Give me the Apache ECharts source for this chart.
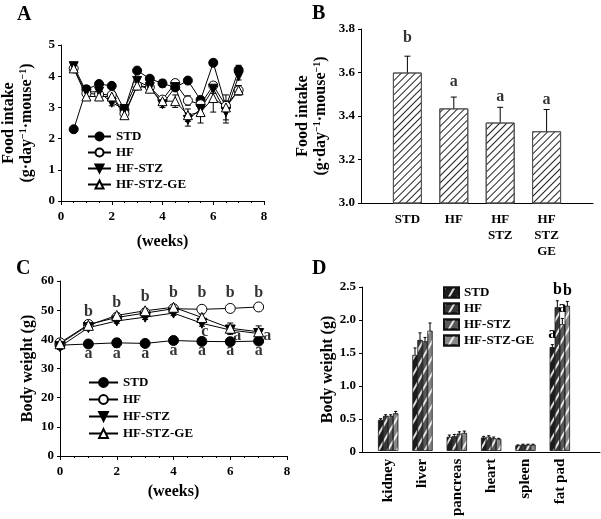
<!DOCTYPE html>
<html>
<head>
<meta charset="utf-8">
<script src="https://cdn.jsdelivr.net/npm/echarts@6/dist/echarts.min.js"></script>
<style>
  html, body { margin: 0; padding: 0; background: #fff; }
  #chart { width: 601px; height: 519px; }
</style>
</head>
<body>
<div id="chart"></div>
<script>
// ---- panel A: food intake over time ----
const weeksA = [0.5, 1, 1.5, 2, 2.5, 3, 3.5, 4, 4.5, 5, 5.5, 6, 6.5, 7]
const foodStd = [2.30, 3.58, 3.75, 3.69, 2.92, 4.18, 3.92, 3.77, 3.64, 3.86, 3.24, 4.43, 3.02, 4.20]
const foodHf = [4.25, 3.45, 3.42, 3.40, 2.80, 3.70, 3.65, 3.25, 3.78, 3.22, 3.10, 3.70, 3.05, 3.55]
const foodHfStz = [4.32, 3.50, 3.50, 3.15, 2.95, 3.85, 3.65, 3.10, 3.65, 2.60, 2.95, 3.60, 2.85, 4.00]
const foodHfStzGe = [4.25, 3.35, 3.35, 3.35, 2.75, 3.70, 3.60, 3.20, 3.20, 2.75, 2.85, 3.30, 3.00, 3.55]
const foodStdErr = [0.05, 0.12, 0.10, 0.08, 0.08, 0.06, 0.10, 0.12, 0.10, 0.10, 0.08, 0.06, 0.15, 0.15]
const foodHfErr = [0.08, 0.10, 0.10, 0.08, 0.08, 0.08, 0.08, 0.08, 0.10, 0.15, 0.15, 0.10, 0.15, 0.15]
const foodHfStzErr = [0.08, 0.10, 0.12, 0.10, 0.08, 0.10, 0.10, 0.10, 0.10, 0.20, 0.15, 0.15, 0.35, 0.12]
const foodHfStzGeErr = [0.10, 0.10, 0.12, 0.10, 0.10, 0.10, 0.10, 0.10, 0.20, 0.20, 0.35, 0.45, 0.40, 0.15]

// ---- panel B: mean food intake ----
const groupsB = ['', 'STD', 'HF', 'HF\nSTZ', 'HF\nSTZ\nGE', '']
const meanFood = [null, 3.60, 3.435, 3.37, 3.33, null]
const meanFoodErr = [null, 0.075, 0.052, 0.07, 0.10, null]
const lettersB = [[1, 3.76, 'b'], [2, 3.556, 'a'], [3, 3.487, 'a'], [4, 3.474, 'a']]

// ---- panel C: body weight over time ----
const weeksC = [0, 1, 2, 3, 4, 5, 6, 7]
const bwStd = [38.0, 38.4, 38.8, 38.6, 39.6, 39.3, 39.2, 39.4]
const bwHf = [38.8, 45.1, 47.5, 49.0, 50.5, 50.3, 50.6, 51.1]
const bwHfStz = [37.5, 44.0, 46.3, 47.6, 49.0, 45.5, 43.2, 42.0]
const bwHfStzGe = [38.5, 44.8, 48.2, 49.8, 51.0, 47.5, 43.8, 42.6]
const bwStdErr = [0.5, 0.6, 1.5, 0.6, 0.6, 0.5, 0.6, 0.6]
const bwHfErr = [0.5, 0.6, 0.6, 0.6, 0.6, 0.5, 0.6, 0.6]
const bwHfStzErr = [0.5, 0.6, 0.8, 0.8, 0.8, 1.0, 1.5, 1.5]
const bwHfStzGeErr = [0.5, 0.6, 0.8, 0.8, 0.8, 1.2, 1.8, 2.0]
const lettersC = [
  [1, 49.5, 'b'], [2, 52.5, 'b'], [3, 54.5, 'b'], [4, 56, 'b'], [5, 56, 'b'], [6, 56, 'b'], [7, 56, 'b'],
  [1, 35, 'a'], [2, 35, 'a'], [3, 35, 'a'], [4, 36, 'a'], [5, 36, 'a'], [6, 36, 'a'], [7, 36, 'a'],
  [5.1, 42.5, 'c'], [6.25, 41.2, 'a'], [7.3, 41.2, 'a']
]

// ---- panel D: organ weights ----
const organs = ['kidney', 'liver', 'pancreas', 'heart', 'spleen', 'fat pad']
const orgStd = [0.47, 1.46, 0.21, 0.20, 0.08, 1.58]
const orgHf = [0.53, 1.69, 0.22, 0.21, 0.09, 2.19]
const orgHfStz = [0.53, 1.67, 0.26, 0.19, 0.09, 1.93]
const orgHfStzGe = [0.57, 1.83, 0.27, 0.18, 0.09, 2.21]
const orgStdErr = [0.02, 0.11, 0.03, 0.02, 0.01, 0.04]
const orgHfErr = [0.02, 0.11, 0.03, 0.02, 0.01, 0.10]
const orgHfStzErr = [0.02, 0.06, 0.03, 0.02, 0.01, 0.09]
const orgHfStzGeErr = [0.03, 0.12, 0.03, 0.01, 0.01, 0.07]
const lettersD = [
  ['', '', '', '', '', 'a'],
  ['', '', '', '', '', 'b'],
  ['', '', '', '', '', 'a'],
  ['', '', '', '', '', 'b']
]

const groupNames = ['STD', 'HF', 'HF-STZ', 'HF-STZ-GE']

const chart = echarts.init(document.getElementById('chart'), null, { renderer: 'canvas' })

const FONT = 'Liberation Serif'
const txt = (size) => ({ color: '#000', fontFamily: FONT, fontWeight: 'bold', fontSize: size })
const blackLine = { lineStyle: { color: '#000', width: 1 } }

// error bar drawer for custom series
function errBars(half, offset, upOnly) {
  return function (params, api) {
    const x = api.value(0), y = api.value(1), e = api.value(2)
    if (isNaN(y)) return
    const top = api.coord([x, y + e])
    const bot = api.coord([x, upOnly ? y : y - e])
    const cx = top[0] + (offset || 0)
    const st = { stroke: '#000', lineWidth: 1 }
    const children = [
      { type: 'line', shape: { x1: cx, y1: top[1], x2: cx, y2: bot[1] }, style: st },
      { type: 'line', shape: { x1: cx - half, y1: top[1], x2: cx + half, y2: top[1] }, style: st }
    ]
    if (!upOnly) {
      children.push({ type: 'line', shape: { x1: cx - half, y1: bot[1], x2: cx + half, y2: bot[1] }, style: st })
    }
    return { type: 'group', children }
  }
}

const symbols = [
  { symbol: 'circle', rot: 0, fill: '#000' },
  { symbol: 'circle', rot: 0, fill: '#fff' },
  { symbol: 'triangle', rot: 180, fill: '#000' },
  { symbol: 'triangle', rot: 0, fill: '#fff' }
]

function lineSet(tag, xs, ys, errs, xi, yi, size) {
  const out = []
  ys.forEach((vals, k) => {
    out.push({
      type: 'custom', xAxisIndex: xi, yAxisIndex: yi, z: 1, silent: true,
      renderItem: errBars(3, 0, false),
      data: xs.map((x, i) => [x, vals[i], errs[k][i]])
    })
  })
  ys.forEach((vals, k) => {
    out.push({
      type: 'line', name: groupNames[k] + '|' + tag, xAxisIndex: xi, yAxisIndex: yi, z: 3,
      data: xs.map((x, i) => [x, vals[i]]),
      symbol: symbols[k].symbol, symbolRotate: symbols[k].rot, symbolSize: size,
      showAllSymbol: true,
      lineStyle: { color: '#000', width: 1 },
      itemStyle: { color: symbols[k].fill, borderColor: '#000', borderWidth: 1, opacity: 1 }
    })
  })
  return out
}

function letterSeries(list, xi, yi) {
  return {
    type: 'scatter', xAxisIndex: xi, yAxisIndex: yi, symbolSize: 0, z: 5, silent: true,
    data: list.map(d => ({ value: [d[0], d[1]], name: d[2] })),
    label: { show: true, position: 'inside', formatter: p => p.name, ...txt(16) }
  }
}

const orgVals = [orgStd, orgHf, orgHfStz, orgHfStzGe]
const orgErrs = [orgStdErr, orgHfErr, orgHfStzErr, orgHfStzGeErr]
const orgFill = ['#1c1c1c', '#383838', '#585858', '#888888']
const BW = 5
const pxPerUnitD = 165 / 2.5

const yNameRich = {
  t: { ...txt(16), lineHeight: 18 },
  s: { ...txt(10), lineHeight: 18, verticalAlign: 'top', padding: [0, 0, 6, 0] }
}
const foodName = '{t|Food intake}\n{t|(g·day}{s|−1}{t|·mouse}{s|−1}{t|)}'

const option = {
  backgroundColor: '#fff',
  animation: false,
  graphic: [
    { type: 'text', left: 17, top: 5, style: { text: 'A', ...txt(20), fill: '#000' } },
    { type: 'text', left: 312, top: 4, style: { text: 'B', ...txt(20), fill: '#000' } },
    { type: 'text', left: 16, top: 259, style: { text: 'C', ...txt(20), fill: '#000' } },
    { type: 'text', left: 312, top: 259, style: { text: 'D', ...txt(20), fill: '#000' } }
  ],
  legend: [
    {
      left: 82, top: 125, orient: 'vertical', itemWidth: 23, itemHeight: 10, itemGap: 3,
      data: groupNames.map(n => n + '|A'), formatter: n => n.split('|')[0],
      textStyle: txt(13), selectedMode: false
    },
    {
      left: 83, top: 371, orient: 'vertical', itemWidth: 29, itemHeight: 11, itemGap: 4,
      data: groupNames.map(n => n + '|C'), formatter: n => n.split('|')[0],
      textStyle: txt(13), selectedMode: false
    },
    {
      left: 438, top: 281, orient: 'vertical', itemWidth: 15, itemHeight: 10, itemGap: 3,
      data: groupNames.map(n => n + '|D'), formatter: n => n.split('|')[0],
      textStyle: txt(13), selectedMode: false, icon: 'rect'
    }
  ],
  grid: [
    { left: 60, top: 45, width: 204, height: 156 },
    { left: 361, top: 29, width: 232, height: 174 },
    { left: 60, top: 281, width: 227, height: 175 },
    { left: 362, top: 287, width: 238, height: 165 },
    { left: 371, top: 287, width: 206, height: 165 }
  ],
  xAxis: [
    {
      gridIndex: 0, type: 'value', min: 0, max: 8, interval: 2,
      name: '(weeks)', nameLocation: 'middle', nameGap: 33, nameTextStyle: txt(16),
      axisLine: blackLine, axisTick: { show: true, length: 4, lineStyle: { color: '#000' } },
      minorTick: { show: true, splitNumber: 4, length: 2, lineStyle: { color: '#000' } },
      axisLabel: { ...txt(13), margin: 9 }, splitLine: { show: false }
    },
    {
      gridIndex: 1, type: 'category', data: groupsB, boundaryGap: false,
      axisLine: blackLine, axisTick: { show: false },
      axisLabel: { ...txt(13), margin: 9, lineHeight: 16, interval: 0 }
    },
    {
      gridIndex: 2, type: 'value', min: 0, max: 8, interval: 2,
      name: '(weeks)', nameLocation: 'middle', nameGap: 28, nameTextStyle: txt(16),
      axisLine: blackLine, axisTick: { show: true, length: 4, lineStyle: { color: '#000' } },
      minorTick: { show: true, splitNumber: 4, length: 2, lineStyle: { color: '#000' } },
      axisLabel: { ...txt(13), margin: 9 }, splitLine: { show: false }
    },
    {
      gridIndex: 3, type: 'value', min: 0, max: 1, show: true,
      axisLine: blackLine, axisTick: { show: false }, axisLabel: { show: false }, splitLine: { show: false }
    },
    {
      gridIndex: 4, type: 'category', data: organs,
      axisLine: { show: false }, axisTick: { show: false },
      axisLabel: { ...txt(15), rotate: 90, margin: 8, interval: 0 }
    }
  ],
  yAxis: [
    {
      gridIndex: 0, type: 'value', min: 0, max: 5, interval: 1,
      name: foodName, nameLocation: 'middle', nameRotate: 90, nameGap: 25,
      nameTextStyle: { rich: yNameRich },
      axisLine: { show: true, ...blackLine }, axisTick: { show: true, length: 3, lineStyle: { color: '#000' } },
      axisLabel: { ...txt(13), margin: 6 }, splitLine: { show: false }
    },
    {
      gridIndex: 1, type: 'value', min: 3.0, max: 3.8, interval: 0.2,
      name: foodName, nameLocation: 'middle', nameRotate: 90, nameGap: 31,
      nameTextStyle: { rich: yNameRich },
      axisLine: { show: true, ...blackLine }, axisTick: { show: true, length: 3, lineStyle: { color: '#000' } },
      axisLabel: { ...txt(13), margin: 6, formatter: v => v.toFixed(1) }, splitLine: { show: false }
    },
    {
      gridIndex: 2, type: 'value', min: 0, max: 60, interval: 10,
      name: 'Body weight (g)', nameLocation: 'middle', nameRotate: 90, nameGap: 24,
      nameTextStyle: txt(16),
      axisLine: { show: true, ...blackLine }, axisTick: { show: true, length: 3, lineStyle: { color: '#000' } },
      axisLabel: { ...txt(13), margin: 6 }, splitLine: { show: false }
    },
    {
      gridIndex: 3, type: 'value', min: 0, max: 2.5, interval: 0.5,
      name: 'Body weight (g)', nameLocation: 'middle', nameRotate: 90, nameGap: 26,
      nameTextStyle: txt(16),
      axisLine: { show: true, ...blackLine }, axisTick: { show: true, length: 3, lineStyle: { color: '#000' } },
      axisLabel: { ...txt(13), margin: 6, formatter: v => v === 0 ? '0' : v.toFixed(1) }, splitLine: { show: false }
    },
    { gridIndex: 4, type: 'value', min: 0, max: 2.5, show: false, splitLine: { show: false } }
  ],
  series: [
    ...lineSet('A', weeksA, [foodStd, foodHf, foodHfStz, foodHfStzGe],
      [foodStdErr, foodHfErr, foodHfStzErr, foodHfStzGeErr], 0, 0, 9),
    {
      type: 'bar', xAxisIndex: 1, yAxisIndex: 1, data: meanFood, barWidth: 29, silent: true,
      itemStyle: {
        color: '#fff', borderColor: '#555', borderWidth: 1,
        decal: { symbol: 'rect', symbolSize: 1, dashArrayX: [1, 0], dashArrayY: [1, 4], rotation: -Math.PI / 4, color: '#222' }
      }
    },
    {
      type: 'custom', xAxisIndex: 1, yAxisIndex: 1, silent: true, z: 4,
      renderItem: errBars(3, 0, true),
      data: meanFood.map((v, i) => [i, v == null ? NaN : v, meanFoodErr[i] || 0])
    },
    letterSeries(lettersB, 1, 1),
    ...lineSet('C', weeksC, [bwStd, bwHf, bwHfStz, bwHfStzGe],
      [bwStdErr, bwHfErr, bwHfStzErr, bwHfStzGeErr], 2, 2, 10),
    letterSeries(lettersC, 2, 2),
    ...orgVals.map((vals, k) => ({
      type: 'bar', name: groupNames[k] + '|D', xAxisIndex: 4, yAxisIndex: 4, barWidth: BW, barGap: '0%',
      silent: true,
      itemStyle: {
        color: orgFill[k], borderColor: '#111', borderWidth: 0.5,
        decal: { symbol: 'rect', symbolSize: 1, dashArrayX: [1, 0], dashArrayY: [1.5, 6], rotation: -Math.PI / 3, color: 'rgba(255,255,255,0.85)' }
      },
      data: vals.map((v, i) => lettersD[k][i]
        ? { value: v, label: { show: true, position: 'top', formatter: lettersD[k][i], distance: orgErrs[k][i] * pxPerUnitD + 3, ...txt(16) } }
        : v)
    })),
    ...orgVals.map((vals, k) => ({
      type: 'custom', xAxisIndex: 4, yAxisIndex: 4, silent: true, z: 4,
      renderItem: errBars(1.5, (k - 1.5) * BW, true),
      data: vals.map((v, i) => [i, v, orgErrs[k][i]])
    }))
  ]
}

chart.setOption(option)
</script>
</body>
</html>
